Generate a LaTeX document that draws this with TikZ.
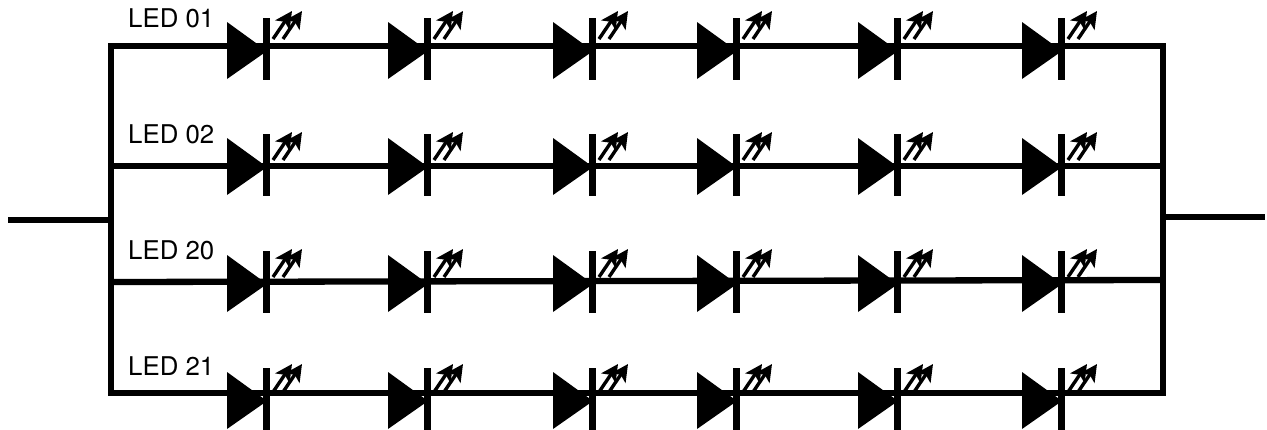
\documentclass[tikz,border=0pt]{standalone}
\usepackage{fontspec}
\setmainfont{TeX Gyre Heros}
\usetikzlibrary{arrows.meta}

\begin{document}
\begin{tikzpicture}[x=1pt, y=-1pt, >={Stealth[length=17pt, width=17pt, inset=4pt]}]
    \useasboundingbox (0,0) rectangle (1267,429);
    \tikzset{
        wire/.style={line width=6.3pt},
        light/.style={->, line width=3.4pt},
        ledlabel/.style={anchor=base west, inner sep=0pt, font=\fontsize{25.8}{30}\selectfont}
    }

    % Wire ends
    \coordinate (L1) at (111,46);
    \coordinate (R1) at (1163,46);
    \coordinate (L2) at (111,166);
    \coordinate (R2) at (1163,166);
    \coordinate (L3) at (111,282);
    \coordinate (R3) at (1163,280);
    \coordinate (L4) at (111,393);
    \coordinate (R4) at (1163,393);
    \coordinate (In) at (8,220);
    \coordinate (InJ) at (111,220);
    \coordinate (Out) at (1265,217);
    \coordinate (OutJ) at (1163,217);

    % Buses and rows
    \draw[wire] (L1) -- (R1) -- (R4) -- (L4) -- cycle;
    \draw[wire] (L2) -- (R2);
    \draw[wire] (L3) -- (R3);
    \draw[wire] (In) -- (InJ);
    \draw[wire] (OutJ) -- (Out);

    % Labels
    \node[ledlabel] (led01) at (128,27) {LED 01};
    \node[ledlabel] (led02) at (128,143) {LED 02};
    \node[ledlabel] (led20) at (128,259) {LED 20};
    \node[ledlabel] (led21) at (128,375) {LED 21};

    % LEDs
    \foreach \ypos/\lift in {49/0,165/5,282/5,399/3} {
        \foreach \xpos in {266,427,592,736,897,1061} {
            \begin{scope}[shift={(\xpos,\ypos)}]
                \fill (-39,-27) -- (1,2) -- (-39,30) -- cycle;
                \draw[line width=7pt] (0,-31) -- (0,31);
                \draw[light] (7,-10+\lift) -- (26,-38+\lift);
                \draw[light] (17,-10+\lift) -- (36,-38+\lift);
            \end{scope}
        }
    }
\end{tikzpicture}
\end{document}
